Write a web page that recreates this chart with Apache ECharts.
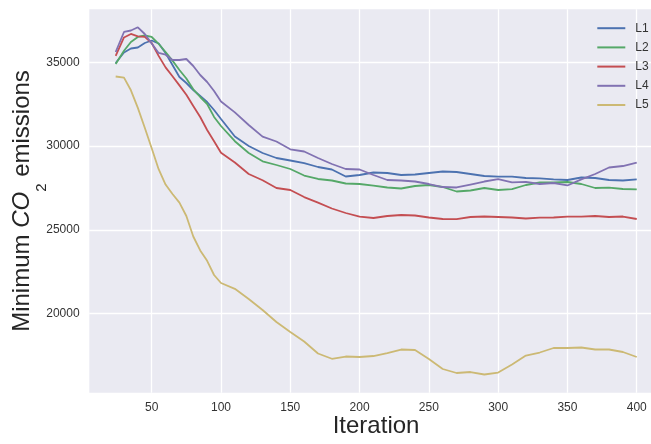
<!DOCTYPE html>
<html>
<head>
<meta charset="utf-8">
<script src="https://cdn.jsdelivr.net/npm/echarts@6/dist/echarts.min.js"></script>
<style>
html,body{margin:0;padding:0;background:#fff;}
#c{width:651px;height:444px;}
</style>
</head>
<body>
<div id="c"></div>
<script>
var iterations = [24,30,35,40,45,50,55,60,65,70,75,80,85,90,95,100,
  110,120,130,140,150,160,170,180,190,200,210,220,230,240,250,260,270,280,290,300,
  310,320,330,340,350,360,370,380,390,400];

var L1 = [34958,35585,35823,35883,36152,36301,36122,35555,34839,34123,33765,33347,32989,32631,32154,31617,
  30573,30006,29588,29290,29141,28990,28753,28603,28186,28275,28424,28395,28275,28305,28395,28484,28454,28335,28216,28174,
  28174,28096,28078,28018,27977,28126,28096,27977,27947,28018];

var L2 = [34899,35686,36211,36510,36599,36510,36104,35615,35101,34541,34034,33389,32929,32512,31740,31200,
  30292,29588,29093,28872,28633,28245,28037,27947,27768,27738,27637,27530,27470,27619,27679,27559,27291,27351,27500,27380,
  27428,27679,27828,27828,27857,27738,27500,27518,27440,27422];

var L3 = [35376,36480,36690,36550,36520,36152,35382,34696,34165,33622,33061,32393,31736,30961,30286,29600,
  29021,28335,27959,27500,27380,26960,26630,26277,26008,25787,25709,25829,25888,25858,25739,25650,25638,25769,25798,25769,
  25739,25680,25727,25739,25787,25787,25829,25769,25798,25650];

var L4 = [35615,36808,36897,37088,36689,36122,35555,35453,35137,35137,35197,34779,34242,33824,33287,32661,
  32011,31259,30566,30274,29809,29677,29290,28932,28633,28603,28275,27977,27947,27887,27738,27559,27530,27708,27887,28036,
  27840,27870,27738,27798,27650,28018,28335,28723,28812,29009];

var L5 = [34153,34087,33329,32279,31098,29868,28621,27708,27142,26628,25829,24605,23776,23156,22309,21831,
  21485,20877,20221,19504,18907,18340,17624,17310,17445,17415,17475,17654,17863,17834,17296,16700,16461,16520,16372,16490,
  16968,17505,17684,17953,17953,17983,17863,17863,17714,17416];

var seriesNames = ['L1','L2','L3','L4','L5'];
var seriesValues = [L1, L2, L3, L4, L5];
var colors = ['#4C72B0','#55A868','#C44E52','#8172B2','#CCB974'];
var xTicks = [50,100,150,200,250,300,350,400];
var yTicks = [20000,25000,30000,35000];

function pairs(vals){
  return iterations.map(function(x,i){ return [x, vals[i]]; });
}

var chart = echarts.init(document.getElementById('c'), null, {renderer:'canvas'});
var font = '"Liberation Sans", Arial, sans-serif';
chart.setOption({
  animation: false,
  color: colors,
  textStyle: {fontFamily: font},
  grid: {
    left: 89.3, right: -11.8, top: 9.3, bottom: 51.3,
    containLabel: false,
    outerBoundsMode: 'none',
    show: true, backgroundColor: '#EAEAF2', borderWidth: 0
  },
  legend: {
    orient: 'vertical',
    left: 597.3, top: 21.2,
    padding: 0,
    icon: 'rect',
    itemWidth: 28, itemHeight: 2,
    itemGap: 5.2,
    textStyle: {fontSize: 12, color: '#333', fontFamily: font, lineHeight: 14, padding: [0,0,0,5]},
    data: seriesNames
  },
  xAxis: {
    type: 'value',
    min: 4.97, max: 418.8,
    name: 'Iteration',
    nameLocation: 'middle',
    nameGap: 22,
    nameMoveOverlap: false,
    nameTextStyle: {fontSize: 24, color: '#262626', fontFamily: font},
    axisLine: {show: false},
    axisTick: {show: false, customValues: xTicks},
    axisLabel: {customValues: xTicks, fontSize: 12, color: '#333', margin: 9, fontFamily: font,
      formatter: function(v){ return String(v); }},
    splitLine: {show: true, lineStyle: {color: '#ffffff', width: 1.3}}
  },
  yAxis: {
    type: 'value',
    min: 15286, max: 38162,
    name: '{a|Minimum }{b|CO}{c|2}{a| emissions}',
    nameLocation: 'middle',
    nameRotate: 90,
    nameGap: 53,
    nameMoveOverlap: false,
    nameTextStyle: {
      color: '#262626',
      rich: {
        a: {fontSize: 24, color: '#262626', fontFamily: font, lineHeight: 28},
        b: {fontSize: 24, color: '#262626', fontFamily: font, fontStyle: 'italic', lineHeight: 28},
        c: {fontSize: 15, color: '#262626', fontFamily: font, lineHeight: 15, verticalAlign: 'top', padding: [26,0,0,0]}
      }
    },
    axisLine: {show: false},
    axisTick: {show: false, customValues: yTicks},
    axisLabel: {customValues: yTicks, fontSize: 12, color: '#333', margin: 9.7, fontFamily: font,
      formatter: function(v){ return String(v); }},
    splitLine: {show: true, lineStyle: {color: '#ffffff', width: 1.3}}
  },
  series: seriesNames.map(function(n, i){
    return {
      name: n, type: 'line', data: pairs(seriesValues[i]),
      symbol: 'none', smooth: false,
      lineStyle: {width: 1.8, color: colors[i]},
      itemStyle: {color: colors[i]}
    };
  })
});
</script>
</body>
</html>
